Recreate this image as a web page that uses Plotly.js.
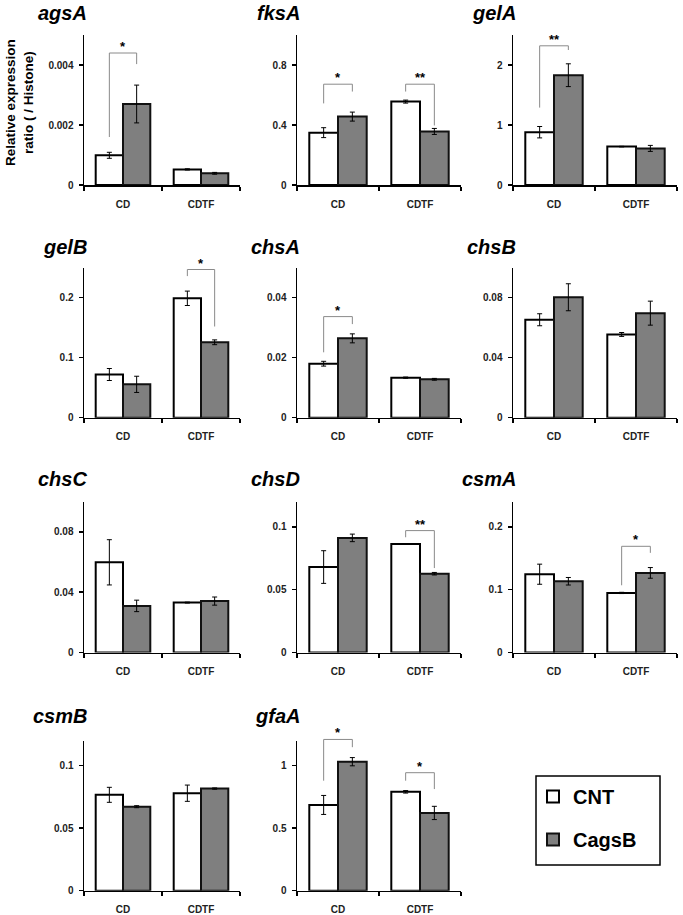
<!DOCTYPE html>
<html><head><meta charset="utf-8">
<script src="https://cdn.plot.ly/plotly-3.0.1.min.js"></script>
<style>html,body{margin:0;padding:0;background:#fff}#chart{width:683px;height:915px}</style>
</head><body><div id="chart"></div>
<script>
// ---------- data ----------
const genes = ['agsA','fksA','gelA','gelB','chsA','chsB','chsC','chsD','csmA','csmB','gfaA'];
const conditions = ['CD','CDTF'];
const seriesNames = ['CNT','CagsB'];

const cntMean = [[0.00099,0.00052],[0.349,0.556],[0.88,0.64],[0.072,0.199],[0.0180,0.01335],[0.0653,0.0555],[0.0598,0.0331],[0.068,0.0864],[0.1246,0.0948],[0.0767,0.078],[0.686,0.791]];
const cntErr  = [[0.0001,0.00002],[0.033,0.01],[0.095,0.005],[0.010,0.012],[0.0008,0.0002],[0.004,0.0013],[0.015,0.0003],[0.013,0.0003],[0.016,0.001],[0.006,0.0065],[0.076,0.01]];
const cagsMean = [[0.0027,0.00039],[0.456,0.357],[1.83,0.61],[0.0556,0.1257],[0.02645,0.0128],[0.0803,0.0697],[0.0309,0.0341],[0.0912,0.0627],[0.1134,0.1267],[0.0672,0.0817],[1.032,0.622]];
const cagsErr  = [[0.00063,0.00003],[0.03,0.02],[0.19,0.05],[0.0135,0.004],[0.0015,0.0003],[0.009,0.008],[0.0038,0.0027],[0.003,0.001],[0.006,0.0085],[0.0008,0.0005],[0.033,0.053]];

const yMax   = [0.005,1,2.5,0.25,0.05,0.1,0.1,0.12,0.24,0.12,1.2];
const yDtick = [0.002,0.4,1,0.1,0.02,0.04,0.04,0.05,0.1,0.05,0.5];

// significance: gene index, condition index, label, left foot, top, right foot
const sigGene  = [0,1,1,2,3,4,7,8,10,10];
const sigCond  = [0,0,1,0,1,0,1,1,0,1];
const sigLabel = ['*','*','**','**','*','*','**','*','*','*'];
const sigLeft  = [0.0016,0.544,0.623,1.29,0.236,0.0218,0.0917,0.107,0.88,0.88];
const sigTop   = [0.0044,0.672,0.672,2.32,0.247,0.0337,0.097,0.169,1.21,0.944];
const sigRight = [0.00403,0.623,0.397,2.25,0.152,0.0312,0.0672,0.1586,1.148,0.813];

// ---------- layout constants ----------
const W = 683, H = 915;
const colPx = [[84,240],[297,461],[513,677]];
const rowPx = [[35,185],[267.7,417.7],[501.7,652.5],[740.7,890.7]];
const titleY = [12.5,247,479,715.5];
const legendBox = [536,776,660,865];
const BARGAP = 0.3;
const FONT = 'Liberation Sans, Arial, Helvetica, sans-serif';

const px2x = p => p / W;
const px2y = p => 1 - p / H;

const traces = [];
const layout = {
  width: W, height: H,
  margin: {l:0, r:0, t:0, b:0},
  paper_bgcolor: '#fff', plot_bgcolor: '#fff',
  barmode: 'group', bargap: BARGAP, bargroupgap: 0,
  showlegend: true,
  font: {family: FONT, color: '#000'},
  legend: {
    x: px2x(legendBox[0] - 3), y: px2y(legendBox[1] + 1), xanchor: 'left', yanchor: 'top',
    borderwidth: 0, bgcolor: 'rgba(0,0,0,0)',
    font: {family: FONT, size: 20, weight: 'bold', color: '#000'},
    traceorder: 'grouped', tracegroupgap: 14, itemwidth: 30
  },
  shapes: [{
    type: 'rect', xref: 'paper', yref: 'paper',
    x0: px2x(legendBox[0]), x1: px2x(legendBox[2]), y0: px2y(legendBox[3]), y1: px2y(legendBox[1]),
    line: {color: '#000', width: 1.5}, fillcolor: 'rgba(0,0,0,0)'
  }],
  annotations: []
};

genes.forEach((g, i) => {
  const r = Math.floor(i / 3), c = i % 3;
  const n = i === 0 ? '' : String(i + 1);
  const xd = [px2x(colPx[c][0]), px2x(colPx[c][1])];
  const yd = [px2y(rowPx[r][1]), px2y(rowPx[r][0])];
  layout['xaxis' + n] = {
    domain: xd, type: 'category', range: [-0.5, 1.5], anchor: 'y' + n,
    showline: true, linecolor: '#000', linewidth: 1.5,
    ticks: 'outside', tickson: 'boundaries', ticklen: 4, tickwidth: 1.5, tickcolor: '#000',
    tickfont: {family: FONT, size: 10, weight: 'bold', color: '#222'},
    ticklabelstandoff: 9, showgrid: false, zeroline: false, fixedrange: true
  };
  layout['yaxis' + n] = {
    domain: yd, range: [0, yMax[i]], anchor: 'x' + n,
    tick0: 0, dtick: yDtick[i],
    showline: true, linecolor: '#000', linewidth: 1.5,
    ticks: 'outside', ticklen: 4, tickwidth: 1.5, tickcolor: '#000',
    tickfont: {family: FONT, size: 10, weight: 'bold', color: '#222'},
    ticklabelstandoff: 3, showgrid: false, zeroline: false, fixedrange: true
  };
  traces.push({
    type: 'bar', name: seriesNames[0], legendgroup: 'cnt', showlegend: i === 0,
    x: conditions, y: cntMean[i], xaxis: 'x' + n, yaxis: 'y' + n,
    marker: {color: '#ffffff', line: {color: '#000', width: 2}},
    error_y: {type: 'data', array: cntErr[i], visible: true, color: '#000', thickness: 1, width: 2.5},
    hoverinfo: 'skip'
  });
  traces.push({
    type: 'bar', name: seriesNames[1], legendgroup: 'cags', showlegend: i === 0,
    x: conditions, y: cagsMean[i], xaxis: 'x' + n, yaxis: 'y' + n,
    marker: {color: '#7f7f7f', line: {color: '#111', width: 2}},
    error_y: {type: 'data', array: cagsErr[i], visible: true, color: '#000', thickness: 1, width: 2.5},
    hoverinfo: 'skip'
  });
  layout.annotations.push({
    text: g, xref: 'paper', yref: 'paper', x: px2x(colPx[c][0] + 5), y: px2y(titleY[r]),
    xanchor: 'right', yanchor: 'middle', showarrow: false,
    font: {family: FONT, size: 20, weight: 'bold', style: 'italic', color: '#000'}
  });
});

// y-axis title for first panel
layout.annotations.push({
  text: 'Relative expression<br>ratio ( / Histone)', xref: 'paper', yref: 'paper',
  x: px2x(20), y: px2y(103), xanchor: 'center', yanchor: 'middle', textangle: -90,
  showarrow: false, font: {family: FONT, size: 13.5, weight: 'bold', color: '#000'}
});

// significance brackets, mapped through the panel's axis ranges
const barW = (1 - BARGAP) / 2;
sigGene.forEach((gi, k) => {
  const ax = layout['xaxis' + (gi === 0 ? '' : gi + 1)];
  const ay = layout['yaxis' + (gi === 0 ? '' : gi + 1)];
  const mapX = v => ax.domain[0] + (v - ax.range[0]) / (ax.range[1] - ax.range[0]) * (ax.domain[1] - ax.domain[0]);
  const mapY = v => ay.domain[0] + (v - ay.range[0]) / (ay.range[1] - ay.range[0]) * (ay.domain[1] - ay.domain[0]);
  const xl = mapX(sigCond[k] - barW / 2), xr = mapX(sigCond[k] + barW / 2);
  const yl = mapY(sigLeft[k]), yt = mapY(sigTop[k]), yr = mapY(sigRight[k]);
  layout.shapes.push({
    type: 'path', xref: 'paper', yref: 'paper',
    path: `M ${xl} ${yl} L ${xl} ${yt} L ${xr} ${yt} L ${xr} ${yr}`,
    line: {color: '#8a8a8a', width: 1}
  });
  layout.annotations.push({
    text: sigLabel[k], xref: 'paper', yref: 'paper', x: (xl + xr) / 2, y: yt,
    xanchor: 'center', yanchor: 'bottom', showarrow: false, yshift: -3,
    font: {family: FONT, size: 13, weight: 'bold', color: '#000'}
  });
});

Plotly.newPlot('chart', traces, layout, {staticPlot: true, displayModeBar: false});
</script>
</body></html>
